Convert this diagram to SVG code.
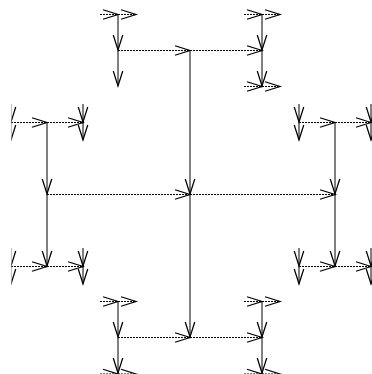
<svg xmlns="http://www.w3.org/2000/svg" width="372" height="374" viewBox="0 0 372 374">
<style>
.h{fill:none;stroke:#000;stroke-width:1;stroke-dasharray:2,1;marker-end:url(#ah)}
.v{fill:none;stroke:#000;stroke-width:1;marker-end:url(#ah)}
</style>
<defs>
<marker id="ah" markerUnits="userSpaceOnUse" orient="auto" refX="0" refY="0" markerWidth="20" markerHeight="20" viewBox="-14 -6 16 12" overflow="visible">
<path d="M-12,-3.8 L0,0 L-12,3.8" fill="none" stroke="#000" stroke-width="1" stroke-dasharray="none"/>
</marker>
<clipPath id="clip"><rect x="11.5" y="0" width="362" height="374"/></clipPath>
</defs>
<rect width="372" height="374" fill="#fff"/>
<g id="connectors" clip-path="url(#clip)">
<!-- level 0 -->
<path class="h" d="M47,194.5H190"/>
<path class="h" d="M190,194.5H335"/>
<path class="v" d="M190,50V194"/>
<path class="v" d="M190,194V337"/>
<!-- level 1 -->
<path class="h" d="M118,50.5H190"/>
<path class="h" d="M190,50.5H262"/>
<path class="h" d="M118,337.5H190"/>
<path class="h" d="M190,337.5H262"/>
<path class="v" d="M47,122V194"/>
<path class="v" d="M47,194V266"/>
<path class="v" d="M335,122V194"/>
<path class="v" d="M335,194V266"/>
<!-- level 2 -->
<path class="v" d="M118,14V50"/>
<path class="v" d="M118,50V86"/>
<path class="v" d="M262,14V50"/>
<path class="v" d="M262,50V86"/>
<path class="v" d="M118,301V337"/>
<path class="v" d="M118,337V373"/>
<path class="v" d="M262,301V337"/>
<path class="v" d="M262,337V373"/>
<path class="h" d="M11,122.5H47"/>
<path class="h" d="M47,122.5H83"/>
<path class="h" d="M11,266.5H47"/>
<path class="h" d="M47,266.5H83"/>
<path class="h" d="M299,122.5H335"/>
<path class="h" d="M335,122.5H371"/>
<path class="h" d="M299,266.5H335"/>
<path class="h" d="M335,266.5H371"/>
<!-- level 3 -->
<path class="h" d="M100,14.5H118"/>
<path class="h" d="M118,14.5H136"/>
<path class="h" d="M244,14.5H262"/>
<path class="h" d="M262,14.5H280"/>
<path class="h" d="M244,86.5H262"/>
<path class="h" d="M262,86.5H280"/>
<path class="h" d="M100,301.5H118"/>
<path class="h" d="M118,301.5H136"/>
<path class="h" d="M244,301.5H262"/>
<path class="h" d="M262,301.5H280"/>
<path class="h" d="M100,374H118"/>
<path class="h" d="M118,374H136"/>
<path class="h" d="M244,374H262"/>
<path class="h" d="M262,374H280"/>
<path class="v" d="M11,104V122"/>
<path class="v" d="M11,122V140"/>
<path class="v" d="M11,248V266"/>
<path class="v" d="M11,266V284"/>
<path class="v" d="M83,104V122"/>
<path class="v" d="M83,122V140"/>
<path class="v" d="M83,248V266"/>
<path class="v" d="M83,266V284"/>
<path class="v" d="M299,104V122"/>
<path class="v" d="M299,122V140"/>
<path class="v" d="M299,248V266"/>
<path class="v" d="M299,266V284"/>
<path class="v" d="M371,104V122"/>
<path class="v" d="M371,122V140"/>
<path class="v" d="M371,248V266"/>
<path class="v" d="M371,266V284"/>
</g>
</svg>
